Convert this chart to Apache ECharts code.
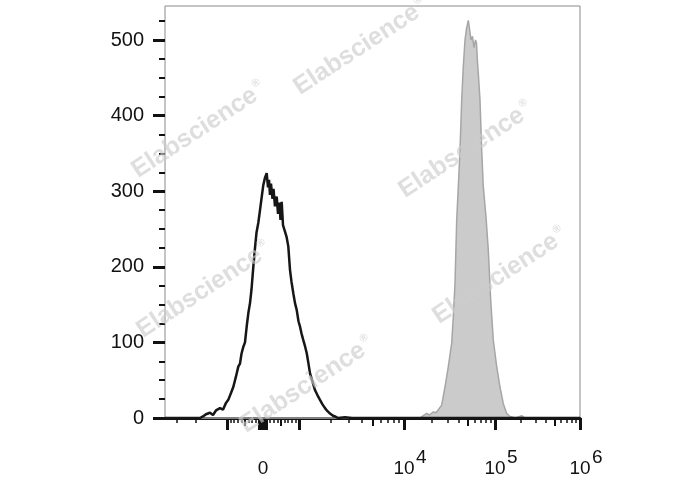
<!DOCTYPE html>
<html><head><meta charset="utf-8">
<script src="https://cdn.jsdelivr.net/npm/echarts@6/dist/echarts.min.js"></script>
<style>html,body{margin:0;padding:0;background:#fff}#c{width:688px;height:490px}</style>
</head><body><div id="c"></div>
<script>
// Control (black outline histogram): fluorescence value, event count
const controlX = [-3894,-1810,-1694,-1585,-1517,-1452,-1359,-1273,-1166,-1092,-1022,-964,-889,-825,-750,-686,-639,-597,-547,-500,-453,-403,-361,-319,-269,-222,-181,-131,-83,-42,8,56,103,139,167,194,222,264,292,333,381,417,458,486,519,556,611,653,703,750,792,842,889,936,986,1022,1056,1099,1141,1184,1231,1273,1345,1420,1501,1585,1674,1768,1868,1973,2108,2203,2352,2743,3200,1000000];
const controlY = [0,0,2,5,3,7,4,10,13,11,20,24,33,41,55,68,72,85,94,100,121,140,152,170,200,225,245,258,275,290,308,318,324,305,315,295,310,290,303,280,293,270,285,262,286,255,253,240,227,196,180,165,152,143,128,121,112,103,95,86,72,59,48,37,30,24,18,13,9,6,3,2,0,1,0,0];
// Stained sample (grey filled histogram)
const stainedX = [-3894,15000,16300,17000,17770,19000,20990,22500,23830,25950,28210,30690,33430,34830,36350,37940,39520,41250,43060,44840,46810,48630,50880,52460,54480,56570,58750,61060,62630,64230,65540,68400,71420,74370,79620,84420,89700,95750,104700,114500,125200,137300,150200,175000,206100,225000,1000000];
const stainedY = [0,0,3,1,6,4,8,7,11,17,41,68,99,134,178,262,306,354,421,465,500,515,526,515,500,505,490,500,496,470,456,421,354,306,266,222,156,103,68,41,19,6,2,0,3,0,0];

const yTickValues = [0,100,200,300,400,500];
const yTickLabels = ['0','100','200','300','400','500'];
const xLabelValues = [0,10000,100000,1000000];
const xLabelBase = ['0','10','10','10'];
const xExpValues = [10000,100000,1000000];
const xExpLabels = ['4','5','6'];
const X_MIN = -3894, X_MAX = 1000000, Y_MAX = 545;

// biexponential-like display scale: linear around zero, log per decade above |1000|
const LIN = 36, DEC = [105, 91, 85];
function T(v){
  const a = Math.abs(v), s = v < 0 ? -1 : 1;
  if (a <= 1000) return v / 1000 * LIN;
  const L = Math.log10(a);
  let t = LIN;
  for (let i = 0; i < DEC.length; i++) t += Math.min(Math.max(L - (3 + i), 0), 1) * DEC[i];
  if (L > 6) t += (L - 6) * DEC[2];
  return s * t;
}
const inRange = v => v >= X_MIN && v <= X_MAX;
const majorT = [], mediumT = [], minorT = [];
majorT.push(0);
for (let k = 1; k <= 6; k++) {
  for (let m = 1; m <= 9; m++) {
    for (const sg of [1, -1]) {
      const v = sg * m * Math.pow(10, k);
      if (!inRange(v)) continue;
      if (m === 1) majorT.push(T(v)); else if (m === 5) mediumT.push(T(v)); else minorT.push(T(v));
    }
  }
}
const yMinor = [];
for (let v = 25; v < Y_MAX; v += 25) if (v % 100 !== 0) yMinor.push(v);

const FONT = '"Liberation Sans", Arial, sans-serif';
const INK = '#121212';
function idxOf(arr, v){ let b = 0; for (let i = 1; i < arr.length; i++) if (Math.abs(T(arr[i]) - v) < Math.abs(T(arr[b]) - v)) b = i; return b; }

const chart = echarts.init(document.getElementById('c'), null, {renderer: 'canvas'});
const baseX = {type: 'value', min: T(X_MIN), max: T(X_MAX), position: 'bottom', gridIndex: 0,
  splitLine: {show: false}, axisLine: {show: false, onZero: false}, axisTick: {show: false}, axisLabel: {show: false}};
const baseY = {type: 'value', min: 0, max: Y_MAX, position: 'left', gridIndex: 0,
  splitLine: {show: false}, axisLine: {show: false, onZero: false}, axisTick: {show: false}, axisLabel: {show: false}};
const wm = [[361,47],[199,130],[466,150],[204,290],[500,276],[307,385]];

chart.setOption({
  animation: false,
  backgroundColor: '#fff',
  grid: {left: 165, right: 108, top: 6, bottom: 72, show: true, borderColor: '#8a8a8a', borderWidth: 1},
  xAxis: [
    Object.assign({}, baseX, {
      axisLine: {show: true, onZero: false, lineStyle: {color: INK, width: 3}},
      axisTick: {show: true, customValues: majorT, length: 12, lineStyle: {color: INK, width: 3}},
      axisLabel: {show: true, customValues: xLabelValues.map(T), formatter: v => xLabelBase[idxOf(xLabelValues, v)],
        margin: 41, fontSize: 19, fontFamily: FONT, color: INK}
    }),
    Object.assign({}, baseX, {axisTick: {show: true, customValues: mediumT, length: 8, lineStyle: {color: INK, width: 2}}}),
    Object.assign({}, baseX, {axisTick: {show: true, customValues: minorT, length: 5, lineStyle: {color: INK, width: 1.5}}}),
    Object.assign({}, baseX, {
      axisLabel: {show: true, customValues: xExpValues.map(T), formatter: v => xExpLabels[idxOf(xExpValues, v)],
        align: 'left', padding: [0, 0, 0, 12], margin: 30, fontSize: 19, fontFamily: FONT, color: INK}
    })
  ],
  yAxis: [
    Object.assign({}, baseY, {
      axisTick: {show: true, customValues: yTickValues, length: 12, lineStyle: {color: INK, width: 3}},
      axisLabel: {show: true, customValues: yTickValues.slice(1), formatter: v => yTickLabels[yTickValues.indexOf(Math.round(v))],
        padding: [13, 0, 0, 0], margin: 21, fontSize: 20, fontFamily: FONT, color: INK}
    }),
    Object.assign({}, baseY, {
      axisLabel: {show: true, customValues: [yTickValues[0]], formatter: () => yTickLabels[0],
        padding: [0, 0, 12, 0], margin: 21, fontSize: 20, fontFamily: FONT, color: INK}
    }),
    Object.assign({}, baseY, {axisTick: {show: true, customValues: yMinor, length: 6, lineStyle: {color: INK, width: 2}}})
  ],
  series: [
    {type: 'line', xAxisIndex: 0, yAxisIndex: 0, showSymbol: false, clip: false, z: 2,
      data: stainedX.map((x, i) => [T(x), stainedY[i]]),
      lineStyle: {color: '#a6a6a6', width: 1.5}, areaStyle: {color: '#cbcbcb', opacity: 1}},
    {type: 'line', xAxisIndex: 0, yAxisIndex: 0, showSymbol: false, clip: false, z: 3,
      data: controlX.map((x, i) => [T(x), controlY[i]]),
      lineStyle: {color: '#161616', width: 2.5}}
  ],
  graphic: wm.map(([x, y]) => ({
    type: 'text', x: x, y: y, rotation: 0.58, z: 100, silent: true,
    style: {text: '{a|Elabscience}{r|®}', align: 'center', verticalAlign: 'middle',
      rich: {a: {font: 'bold 25px ' + FONT, fill: 'rgba(205,205,205,0.65)'},
             r: {font: 'bold 11px ' + FONT, fill: 'rgba(205,205,205,0.65)', padding: [0, 0, 16, 2]}}}
  }))
});
</script></body></html>
